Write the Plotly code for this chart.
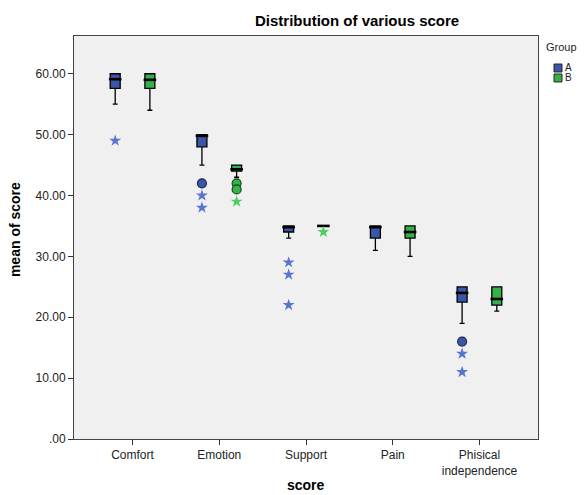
import plotly.graph_objects as go

categories = ["Comfort", "Emotion", "Support", "Pain", "Phisical<br>independence"]
groups = ["A", "B"]

# Box statistics
a_q1 = [57.6, 48.0, 34.0, 33.0, 22.5]
a_median = [59.1, 49.8, 34.8, 34.8, 24.0]
a_q3 = [60.0, 50.0, 35.0, 35.0, 25.0]
a_low = [55.0, 45.0, 33.0, 31.0, 19.0]
a_high = [60.0, 50.0, 35.0, 35.0, 25.0]

b_q1 = [57.6, 44.0, 35.0, 33.0, 22.0]
b_median = [59.0, 44.3, 35.0, 34.0, 23.0]
b_q3 = [60.0, 45.0, 35.0, 35.0, 25.0]
b_low = [54.0, 43.0, 35.0, 30.0, 21.0]
b_high = [60.0, 45.0, 35.0, 35.0, 25.0]

# Outliers: category index and value
a_circle_cat = [1, 4]
a_circle_val = [42.0, 16.0]
a_star_cat = [0, 1, 1, 2, 2, 2, 4, 4]
a_star_val = [49.0, 40.0, 38.0, 29.0, 27.0, 22.0, 14.0, 11.0]
b_circle_cat = [1, 1]
b_circle_val = [42.0, 41.0]
b_star_cat = [1, 2]
b_star_val = [39.0, 34.0]

y_tickvals = [0, 10, 20, 30, 40, 50, 60]
y_ticktext = [".00", "10.00", "20.00", "30.00", "40.00", "50.00", "60.00"]

BLUE = "rgb(58,86,168)"
GREEN = "rgb(52,178,72)"
BLUE_STAR = "rgb(88,118,205)"
GREEN_STAR = "rgb(78,205,96)"
FONT = "Liberation Sans, Arial, sans-serif"

OFFSET = 0.2
BOXW = 0.115

fig = go.Figure()

def pos(cats, off):
    return [c + off for c in cats]

idx = list(range(len(categories)))
for name, off, col, q1, med, q3, lo, hi in [
    ("A", -OFFSET, BLUE, a_q1, a_median, a_q3, a_low, a_high),
    ("B", OFFSET, GREEN, b_q1, b_median, b_q3, b_low, b_high),
]:
    fig.add_trace(go.Box(
        name=name, x=pos(idx, off), q1=q1, median=med, q3=q3,
        lowerfence=lo, upperfence=hi, width=BOXW, whiskerwidth=0.5,
        fillcolor=col, line=dict(color="black", width=1.3),
        boxpoints=False, hoverinfo="skip", showlegend=False,
    ))
    # thicker median line as in SPSS
    fig.add_trace(go.Scatter(
        x=pos(idx, off), y=med, mode="markers", showlegend=False, hoverinfo="skip",
        marker=dict(symbol="line-ew", size=9, line=dict(color="black", width=2.6)),
    ))

for cats, vals, off, col, edge in [
    (a_circle_cat, a_circle_val, -OFFSET, BLUE, "rgb(30,40,80)"),
    (b_circle_cat, b_circle_val, OFFSET, GREEN, "rgb(20,70,30)"),
]:
    fig.add_trace(go.Scatter(
        x=pos(cats, off), y=vals, mode="markers", showlegend=False, hoverinfo="skip",
        marker=dict(symbol="circle", size=9, color=col, line=dict(color=edge, width=1.2)),
    ))

for cats, vals, off, col in [
    (a_star_cat, a_star_val, -OFFSET, BLUE_STAR),
    (b_star_cat, b_star_val, OFFSET, GREEN_STAR),
]:
    fig.add_trace(go.Scatter(
        x=pos(cats, off), y=vals, mode="markers", showlegend=False, hoverinfo="skip",
        marker=dict(symbol="star", size=9, color=col, line=dict(width=0)),
    ))

# Manual legend (SPSS style)
legend_colors = [BLUE, GREEN]
legend_y = [(0.9305, 0.9107), (0.9057, 0.8859)]
shapes = []
annotations = []
for g, col, (y1, y0) in zip(groups, legend_colors, legend_y):
    shapes.append(dict(type="rect", xref="paper", yref="paper", x0=1.0345, x1=1.0517,
                       y0=y0, y1=y1, fillcolor=col, line=dict(color="rgb(40,40,40)", width=1)))
    annotations.append(dict(text=g, xref="paper", yref="paper", x=1.053, y=(y0 + y1) / 2,
                            xanchor="left", yanchor="middle", showarrow=False,
                            font=dict(family=FONT, size=10, color="#222")))
annotations.append(dict(text="Group", xref="paper", yref="paper", x=1.013, y=0.972,
                        xanchor="left", yanchor="middle", showarrow=False,
                        font=dict(family=FONT, size=11, color="#222")))
annotations.append(dict(text="<b>Distribution of various score</b>", xref="paper", yref="paper",
                        x=0.61, y=1.0397, xanchor="center", yanchor="middle", showarrow=False,
                        font=dict(family=FONT, size=15, color="black")))
annotations.append(dict(text="<b>score</b>", xref="paper", yref="paper",
                        x=0.5, y=-0.113, xanchor="center", yanchor="middle", showarrow=False,
                        font=dict(family=FONT, size=14, color="black")))
annotations.append(dict(text="<b>mean of score</b>", xref="paper", yref="paper",
                        x=-0.127, y=0.5186, xanchor="center", yanchor="middle", showarrow=False,
                        textangle=-90, font=dict(family=FONT, size=14, color="black")))

# The page body adds an 8px margin, so the figure is 8px smaller in each direction
fig.update_layout(
    width=578, height=487,
    margin=dict(l=66, r=48, t=28, b=56, autoexpand=False),
    paper_bgcolor="white", plot_bgcolor="#F0F0F0",
    font=dict(family=FONT, size=12, color="#222"),
    showlegend=False,
    shapes=shapes, annotations=annotations,
    xaxis=dict(range=[-0.675, 4.675], tickvals=idx, ticktext=categories, automargin=False,
               ticks="outside", ticklen=5, tickcolor="#333", showgrid=False, zeroline=False,
               showline=True, linecolor="#444", linewidth=1, mirror=True,
               tickfont=dict(size=12, color="#222")),
    yaxis=dict(range=[0, 66.2], tickvals=y_tickvals, ticktext=y_ticktext, automargin=False,
               ticks="outside", ticklen=5, tickcolor="#333", showgrid=False, zeroline=False,
               showline=True, linecolor="#444", linewidth=1, mirror=True,
               tickfont=dict(size=12, color="#222")),
)

fig.write_html("out.html")
